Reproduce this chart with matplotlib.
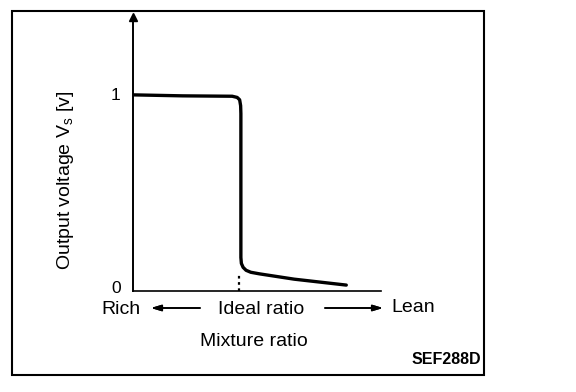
import matplotlib.pyplot as plt
import matplotlib.transforms as mtransforms
from matplotlib.patches import Rectangle

plt.rcParams['font.family'] = ['Liberation Sans', 'DejaVu Sans']

# Sensor output curve (arbitrary mixture-ratio units, volts)
ratio = [0.0, 2.0, 4.0, 4.2, 4.3, 4.34, 4.35, 4.35, 4.37, 4.44, 4.56, 4.75, 5.1, 6.5, 8.6]
volts = [0.995, 0.99, 0.988, 0.982, 0.97, 0.94, 0.90, 0.17, 0.14, 0.12, 0.105, 0.095, 0.087, 0.06, 0.03]

ideal_x = 4.27
ideal_y = 0.086

ytick_vals = [0, 1]
ytick_labels = ['0', '1']

fig = plt.figure(figsize=(5.76, 3.92), dpi=100)
fig.patches.append(Rectangle((12 / 576, 1 - 375 / 392), 472 / 576, 364 / 392,
                             transform=fig.transFigure, fill=False,
                             edgecolor='black', linewidth=1.5))

ax = fig.add_axes([133 / 576, 1 - 291 / 392, 248 / 576, 274 / 392])
ax.plot(ratio, volts, color='black', linewidth=2.4,
        solid_joinstyle='round', solid_capstyle='round')
ax.plot([ideal_x, ideal_x], [0, ideal_y], color='black', linewidth=1.6,
        linestyle=(0, (1.2, 1.6)))

ax.set_xlim(0, 10)
ax.set_ylim(0, 1.39)
for side in ['top', 'right']:
    ax.spines[side].set_visible(False)
ax.spines['left'].set_linewidth(1.4)
ax.spines['bottom'].set_linewidth(1.2)
ax.set_xticks([])
ax.set_yticks(ytick_vals)
ax.set_yticklabels(ytick_labels, fontsize=12.5)
ax.tick_params(axis='y', length=0, pad=9)
# lift the "0" a little, as in the original
lift = mtransforms.ScaledTranslation(0, 4 / 100, fig.dpi_scale_trans)
zero_lbl = ax.get_yticklabels()[0]
zero_lbl.set_transform(zero_lbl.get_transform() + lift)
# arrow head on the y axis
ax.plot([0], [1.39], marker='^', color='black', markersize=6,
        clip_on=False, transform=ax.transData)

ax.set_ylabel(r'Output voltage $\mathregular{V_s}$ [v]', fontsize=14)
ax.yaxis.set_label_coords((76 - 133) / 248, (291 - 180) / 274)

def fx(px):
    return px / 576

def fy(py):
    return 1 - py / 392

fig.text(fx(121), fy(309), 'Rich', fontsize=14, ha='center', va='center')
fig.text(fx(261), fy(310), 'Ideal ratio', fontsize=14, ha='center', va='center')
fig.text(fx(413), fy(308), 'Lean', fontsize=14, ha='center', va='center')
fig.text(fx(254), fy(341), 'Mixture ratio', fontsize=14, ha='center', va='center')
fig.text(fx(481), fy(359), 'SEF288D', fontsize=11.5, fontweight='bold',
         ha='right', va='center')

arrow = dict(arrowstyle='-|>,head_length=0.6,head_width=0.18', color='black',
             linewidth=1.2, shrinkA=0, shrinkB=0)
fig.add_artist(plt.annotate('', xy=(fx(151), fy(308)), xytext=(fx(200), fy(308)),
                            xycoords='figure fraction', arrowprops=arrow))
fig.add_artist(plt.annotate('', xy=(fx(383), fy(308)), xytext=(fx(325), fy(308)),
                            xycoords='figure fraction', arrowprops=arrow))

fig.savefig('out.png', dpi=100)
